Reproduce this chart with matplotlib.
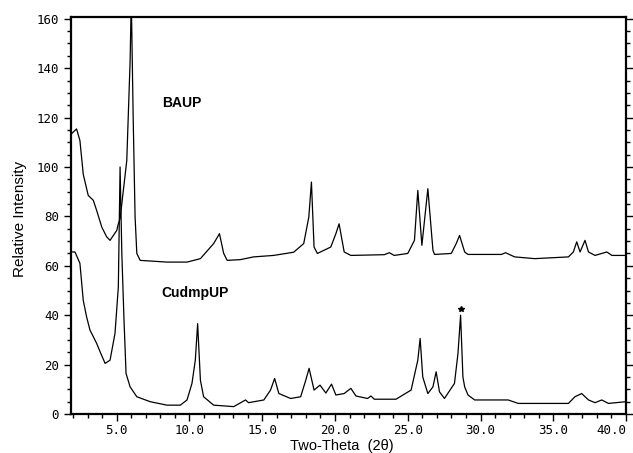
import matplotlib.pyplot as plt
from matplotlib.ticker import MultipleLocator

# BAUP pattern (upper trace)
baup_2theta = [1.90, 2.24, 2.47, 2.70, 3.04, 3.39, 3.62, 3.97, 4.31, 4.54, 5.00, 5.11,
               5.23, 5.69, 5.92, 6.00, 6.13, 6.26, 6.38, 6.61, 8.45, 9.83, 10.75, 11.66,
               12.06, 12.35, 12.59, 13.50, 14.40, 15.78, 17.16, 17.85, 18.20, 18.38,
               18.56, 18.79, 19.71, 20.06, 20.28, 20.63, 21.09, 23.39, 23.73, 24.07,
               25.00, 25.46, 25.69, 25.97, 26.38, 26.73, 26.84, 27.99, 28.33, 28.56,
               28.91, 29.14, 31.44, 31.72, 32.35, 33.73, 36.04, 36.38, 36.61, 36.84,
               37.18, 37.42, 37.87, 38.68, 39.03, 40.00]
baup_int = [113.5, 115.4, 110.7, 97.0, 88.5, 86.5, 82.4, 75.7, 71.7, 70.3, 74.3, 77.0,
            79.0, 102.6, 143.0, 168.0, 120.0, 80.0, 65.0, 62.2, 61.5, 61.5, 62.9, 69.0,
            73.0, 65.0, 62.2, 62.5, 63.6, 64.2, 65.5, 69.0, 79.7, 93.9,
            67.6, 65.0, 67.6, 73.0, 77.0, 65.6, 64.2, 64.5, 65.3, 64.2,
            65.0, 70.3, 90.5, 68.3, 91.2, 66.3, 64.6, 65.0, 69.0, 72.3,
            65.6, 64.6, 64.6, 65.3, 63.6, 62.9, 63.6, 65.6, 69.7, 65.6,
            70.3, 65.6, 64.2, 65.6, 64.2, 64.2]

# CudmpUP pattern (lower trace)
cu_2theta = [1.90, 2.13, 2.47, 2.70, 2.93, 3.16, 3.62, 3.85, 4.20, 4.54, 4.88, 5.11,
             5.23, 5.35, 5.50, 5.64, 5.92, 6.38, 7.30, 8.45, 9.37, 9.83, 10.17, 10.40,
             10.56, 10.75, 10.97, 11.66, 13.04, 13.85, 14.06, 15.11, 15.57, 15.85,
             16.14, 16.95, 17.64, 17.99, 18.22, 18.56, 18.97, 19.37, 19.76, 20.06,
             20.63, 21.09, 21.44, 22.24, 22.47, 22.70, 24.19, 25.23, 25.69, 25.85,
             26.03, 26.38, 26.73, 26.95, 27.18, 27.52, 28.21, 28.45, 28.63, 28.79,
             28.91, 29.14, 29.60, 31.90, 32.59, 36.04, 36.49, 36.95, 37.42, 37.87,
             38.33, 38.79, 40.00]
cu_int = [65.6, 65.6, 61.0, 46.0, 39.3, 34.0, 28.6, 25.3, 20.5, 21.8, 32.6, 51.4,
          100.0, 65.0, 38.0, 16.4, 11.0, 7.0, 5.0, 3.6, 3.6, 5.7, 12.4, 21.8,
          36.6, 13.7, 7.0, 3.6, 3.0, 5.7, 4.6, 5.7, 9.7, 14.4,
          8.3, 6.3, 7.0, 13.7, 18.5, 9.7, 11.7, 8.5, 12.1, 7.7,
          8.3, 10.4, 7.3, 6.3, 7.3, 6.0, 6.0, 9.7, 21.8, 30.6,
          15.0, 8.3, 11.0, 17.1, 9.0, 6.3, 12.4, 24.5, 40.0, 15.0,
          11.0, 7.7, 5.7, 5.7, 4.3, 4.3, 7.0, 8.3, 5.7, 4.6,
          5.7, 4.3, 5.0]

star_pos = (28.68, 42.5)

x_ticks = [5, 10, 15, 20, 25, 30, 35, 40]
x_ticklabels = ['5.0', '10.0', '15.0', '20.0', '25.0', '30.0', '35.0', '40.0']

fig = plt.figure(figsize=(6.33, 4.53), dpi=100)
ax = fig.add_axes([0.112, 0.086, 0.877, 0.877])

ax.plot(baup_2theta, baup_int, color='black', linewidth=0.9)
ax.plot(cu_2theta, cu_int, color='black', linewidth=0.9)
ax.plot(*star_pos, marker='*', color='black', markersize=4)

ax.text(8.1, 125.7, 'BAUP', fontsize=10, fontweight='bold', va='center',
        family='Liberation Sans')
ax.text(8.1, 48.9, 'CudmpUP', fontsize=10, fontweight='bold', va='center',
        family='Liberation Sans')

ax.set_xlim(1.85, 40)
ax.set_ylim(0, 160.8)

ax.set_xticks(x_ticks)
ax.set_xticklabels(x_ticklabels)
ax.xaxis.set_minor_locator(MultipleLocator(1))
ax.yaxis.set_major_locator(MultipleLocator(20))
ax.yaxis.set_minor_locator(MultipleLocator(5))

ax.tick_params(axis='x', which='both', direction='out', top=False,
               labelsize=9, pad=2)
ax.tick_params(axis='y', which='both', direction='out', left=True, right=True,
               labelsize=9)
ax.tick_params(which='major', length=5, width=1)
ax.tick_params(which='minor', length=3, width=1)
for lbl in ax.get_xticklabels() + ax.get_yticklabels():
    lbl.set_family('DejaVu Sans Mono')
ax.get_xticklabels()[-1].set_ha('right')

for sp in ax.spines.values():
    sp.set_linewidth(1.6)

ax.set_xlabel('Two-Theta  (2θ)', fontsize=10.5, family='Liberation Sans')
ax.xaxis.set_label_coords(0.488, -0.081)
ax.xaxis.label.set_va('center')
ax.set_ylabel('Relative Intensity', fontsize=11, family='Liberation Sans')
ax.yaxis.set_label_coords(-0.092, 0.49)
ax.yaxis.label.set_va('center')

fig.savefig('out.png', dpi=100)
